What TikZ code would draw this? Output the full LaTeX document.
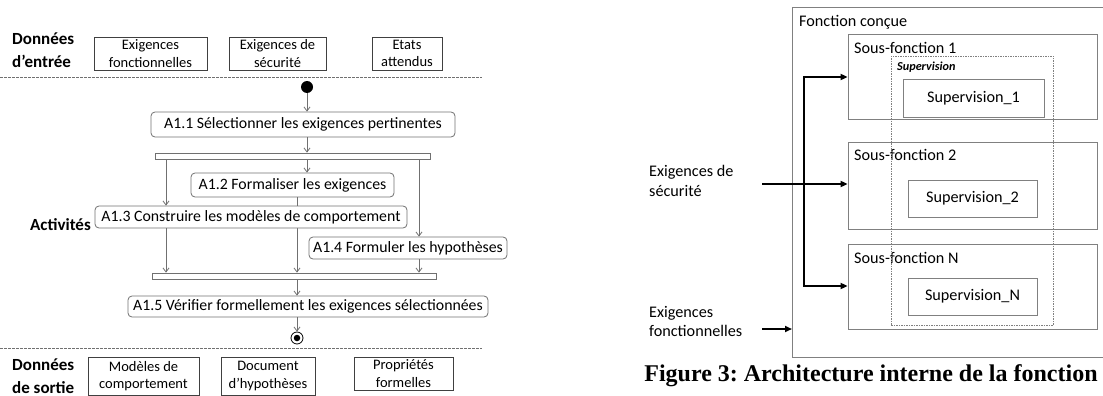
\documentclass[tikz,border=0pt]{standalone}
\usepackage{fontspec}
\setmainfont{Carlito}
\newfontfamily\capfont{Liberation Serif}
\usetikzlibrary{arrows.meta}
\definecolor{lg}{HTML}{707070}
\definecolor{bg}{HTML}{808080}
\frenchspacing
\tikzset{
  iobox/.style={draw=black!75, line width=0.8pt, align=center, inner sep=0pt, font=\fontsize{14.5}{17.5}\selectfont},
  act/.style={draw=lg, line width=0.8pt, rounded corners=4pt, inner sep=0pt, font=\fontsize{15.8}{17}\selectfont},
  bar/.style={draw=lg, line width=0.8pt, inner sep=0pt, fill=white},
  flow/.style={draw=lg, line width=0.8pt, -{Straight Barb[length=4pt,width=6pt]}},
  sect/.style={font=\fontsize{17}{23}\selectfont\bfseries, align=left, inner sep=0pt},
  sep/.style={draw=lg, line width=0.7pt, dash pattern=on 2.5pt off 1.5pt},
  rbox/.style={draw=bg, line width=0.8pt, inner sep=0pt},
  rlab/.style={font=\fontsize{16.2}{18}\selectfont, inner sep=0pt, anchor=west},
  tarrow/.style={line width=2pt, -{Triangle[length=7pt,width=6pt]}},
}
\begin{document}
\begin{tikzpicture}[x=1pt,y=-1pt]
\useasboundingbox (0,0) rectangle (1103,396);
% ---------------- left: activity diagram
\node[sect, anchor=west] (din) at (12,50) {Données\\d’entrée};
\node[iobox, minimum width=113pt, minimum height=33pt] (in1) at (150.5,53.5) {Exigences\\fonctionnelles};
\node[iobox, minimum width=97pt, minimum height=33pt] (in2) at (277.5,53.5) {Exigences de\\sécurité};
\node[iobox, minimum width=70pt, minimum height=33pt] (in3) at (407,53.5) {Etats\\attendus};
\draw[sep] (0,77) -- (482,77);

\node[circle, fill=black, minimum size=12pt, inner sep=0pt] (start) at (307,87) {};
\node[act, minimum width=304pt, minimum height=25pt] (a11) at (303,124.5) {A1.1 Sélectionner les exigences pertinentes};
\node[bar, minimum width=275pt, minimum height=6pt] (bar1) at (292.5,156) {};
\node[act, minimum width=203pt, minimum height=24pt] (a12) at (292.5,185) {A1.2 Formaliser les exigences};
\node[bar, minimum width=284pt, minimum height=6pt] (bar2) at (294,276) {};
\coordinate (x166) at (166,0);
\coordinate (x297) at (297,0);
\coordinate (x419) at (419,0);
\draw[flow] (a12.south -| x297) -- (bar2.north -| x297);
\node[act, fill=white, minimum width=312pt, minimum height=22pt] (a13) at (251,217) {A1.3 Construire les modèles de comportement};
\node[sect, anchor=east] (act) at (91,225) {Activités};
\node[act, minimum width=198pt, minimum height=22pt] (a14) at (408,248) {A1.4 Formuler les hypothèses};
\node[act, minimum width=360pt, minimum height=21pt] (a15) at (308,306.5) {A1.5 Vérifier formellement les exigences sélectionnées};
\node[circle, draw=black, line width=0.8pt, minimum size=12pt, inner sep=0pt] (end) at (297,338) {};
\node[circle, fill=black, minimum size=6.5pt, inner sep=0pt] (endin) at (end.center) {};

\draw[flow] (start.south) -- (start.south |- a11.north);
\draw[flow] (a11.south -| start) -- (bar1.north -| start);
\draw[flow] (bar1.south -| x166) -- (a13.north -| x166);
\draw[flow] (bar1.south -| start) -- (a12.north -| start);
\draw[flow] (bar1.south -| x419) -- (a14.north -| x419);
\draw[flow] (a13.south -| x166) -- (bar2.north -| x166);
\draw[flow] (a14.south -| x419) -- (bar2.north -| x419);
\draw[flow] (bar2.south -| x297) -- (a15.north -| x297);
\draw[flow] (a15.south -| x297) -- (end.north);

\draw[sep] (0,348) -- (482,348);
\node[sect, anchor=west] (dout) at (12,376) {Données\\de sortie};
\node[iobox, minimum width=111pt, minimum height=38pt] (out1) at (143.5,376) {Modèles de\\comportement};
\node[iobox, minimum width=94pt, minimum height=38pt] (out2) at (268,376) {Document\\d’hypothèses};
\node[iobox, minimum width=99pt, minimum height=33pt] (out3) at (403.5,373.5) {Propriétés\\formelles};

% ---------------- right: architecture
\draw[draw=bg, line width=0.8pt] (1103,7) -- (792,7) -- (792,357) -- (1103,357);
\coordinate (outerL) at (792,329);
\node[rlab] (fc) at (799,22) {Fonction conçue};
\node[rbox, minimum width=249pt, minimum height=85pt] (sf1) at (972.5,76.5) {};
\node[rbox, minimum width=249pt, minimum height=87pt] (sf2) at (972.5,185.5) {};
\node[rbox, minimum width=249pt, minimum height=85pt] (sfN) at (972.5,286.5) {};
\node[rlab] (l1) at (854,48) {Sous-fonction 1};
\node[rlab] (l2) at (854,155) {Sous-fonction 2};
\node[rlab] (lN) at (854,258) {Sous-fonction N};
\node[draw=bg, line width=0.7pt, dash pattern=on 1.5pt off 1pt, minimum width=162pt, minimum height=269pt, inner sep=0pt] (sup) at (972,190.5) {};
\node[inner sep=0pt, anchor=west, font=\fontsize{12.2}{13}\selectfont\bfseries\itshape] (suplab) at (897,67) {Supervision};
\node[rbox, minimum width=141pt, minimum height=38pt, font=\fontsize{16.2}{18}\selectfont] (s1) at (973.5,98) {Supervision\_1};
\node[rbox, minimum width=129pt, minimum height=37pt, font=\fontsize{16.2}{18}\selectfont] (s2) at (972.5,198.5) {Supervision\_2};
\node[rbox, minimum width=129pt, minimum height=37pt, font=\fontsize{16.2}{18}\selectfont] (sN) at (972.5,296.5) {Supervision\_N};

\node[rlab, align=left, anchor=north west, font=\fontsize{16.2}{20}\selectfont] (sec) at (649,165) {Exigences de\\sécurité};
\node[rlab, align=left, anchor=north west, font=\fontsize{16.2}{19}\selectfont] (fon) at (649,306) {Exigences\\fonctionnelles};
\coordinate (secS) at (762,184);
\coordinate (fonS) at (762,329);
\coordinate (jt) at (804,77);
\coordinate (jb) at (804,286);
\draw[tarrow] (secS) -- (secS -| sf2.west);
\draw[tarrow] (secS -| jt) -- (jt) -- (jt -| sf1.west);
\draw[tarrow] (secS -| jt) -- (jb) -- (jb -| sfN.west);
\draw[tarrow] (fonS) -- (outerL);

\node[inner sep=0pt, font=\capfont\fontsize{24}{26}\selectfont\bfseries] (cap) at (871,376) {Figure 3: Architecture interne de la fonction};
\end{tikzpicture}
\end{document}
